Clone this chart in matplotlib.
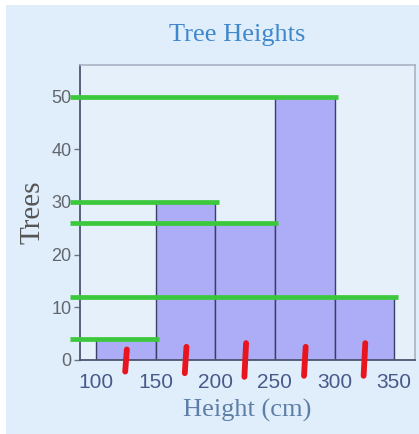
import matplotlib
matplotlib.use('Agg')
import matplotlib.pyplot as plt
from matplotlib.patches import Rectangle

# bins and counts
bin_edges = [100, 150, 200, 250, 300, 350]
counts = [4, 30, 26, 50, 12]
# where each green guide line ends (right edge of the bar it reads)
guide_ends = [150, 200, 250, 300, 350]
# red tick marks under the bar centres
mark_x = [125, 175, 225, 275, 325]
mark_top = [2.0, 2.5, 3.2, 2.5, 3.2]
mark_bottom = [-2.2, -2.5, -3.2, -3.0, -3.0]

fig = plt.figure(figsize=(4.19, 4.34), dpi=100)
fig.patch.set_facecolor('white')
fig.patches.append(Rectangle((6 / 419, 0), 1, 1 - 5 / 434, transform=fig.transFigure,
                             facecolor='#e0eefc', edgecolor='none', zorder=-10))

ax = fig.add_axes([80 / 419, 1 - 360 / 434, 335 / 419, 295 / 434])
ax.set_facecolor('#e6f0fb')

widths = [b - a for a, b in zip(bin_edges[:-1], bin_edges[1:])]
ax.bar(bin_edges[:-1], counts, width=widths, align='edge', color='#adadf7',
       edgecolor='#3a3f63', linewidth=1.0, zorder=2)

# green guide lines reaching back to the y axis
for c, end in zip(counts, guide_ends):
    ax.plot([78, end + 3], [c, c], color='#3cc83c', lw=3.4, solid_capstyle='butt',
            clip_on=False, zorder=4)

# red marks at bin centres
for x, t, b in zip(mark_x, mark_top, mark_bottom):
    ax.plot([x - 0.6, x + 0.8], [b, t], color='#e8151f', lw=4.2, solid_capstyle='round',
            clip_on=False, zorder=5)

ax.set_xlim(86.5, 367.5)
ax.set_ylim(0, 56)
ax.set_xticks([100, 150, 200, 250, 300, 350])
ax.set_yticks([0, 10, 20, 30, 40, 50])
ax.tick_params(axis='x', length=0, pad=9, labelsize=15, labelcolor='#48598a')
ax.tick_params(axis='y', length=4, width=1, color='#6b7585', pad=2, labelsize=13,
               labelcolor='#62666c')
for lab in ax.get_xticklabels() + ax.get_yticklabels():
    lab.set_family('Liberation Sans')

for s in ['top', 'right']:
    ax.spines[s].set_color('#a8b4c4')
    ax.spines[s].set_linewidth(1.2)
for s in ['left', 'bottom']:
    ax.spines[s].set_color('#4c5670')
    ax.spines[s].set_linewidth(1.3)

fig.text(237 / 419, 1 - 35 / 434, 'Tree Heights', ha='center', va='center',
         fontsize=19, color='#3f88cc', family='Liberation Serif')
ax.set_xlabel('Height (cm)', fontsize=19, color='#5d7ea6', family='Liberation Serif',
              labelpad=5)
ax.set_ylabel('Trees', fontsize=21, color='#555555', family='Liberation Serif',
              labelpad=4)

fig.savefig('out.png', dpi=100, facecolor=fig.get_facecolor())
